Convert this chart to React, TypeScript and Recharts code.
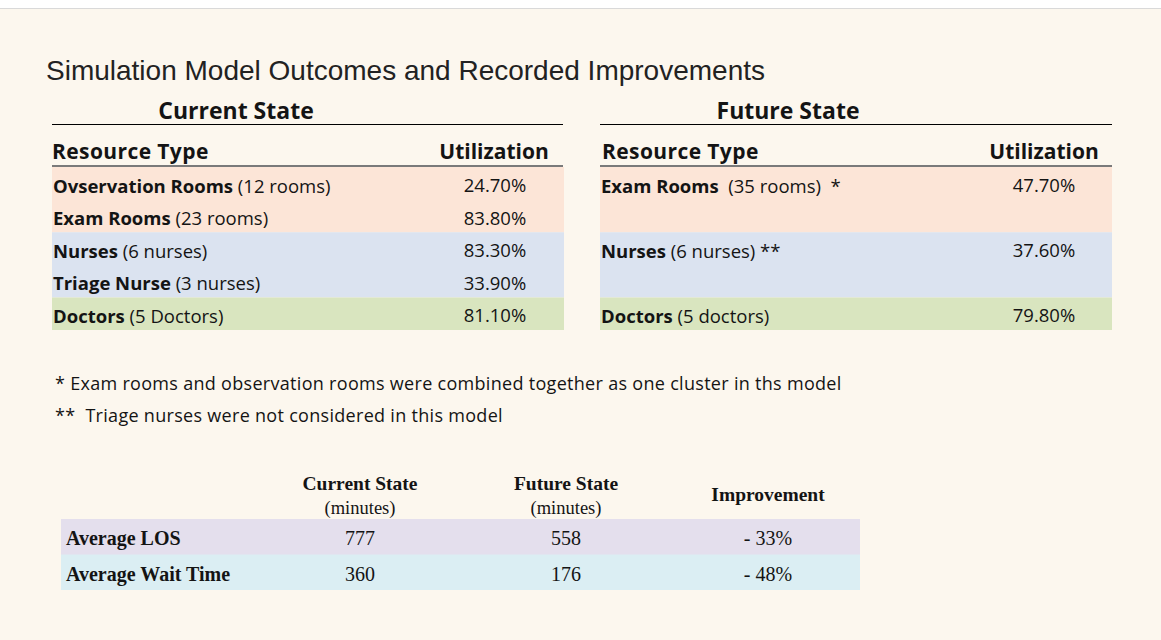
import React from "react";
import { BarChart, Bar, XAxis, YAxis, LabelList, ReferenceArea } from "recharts";

// resource utilization, current vs future state
const currentNames = ["Ovservation Rooms", "Exam Rooms", "Nurses", "Triage Nurse", "Doctors"];
const currentDetails = ["(12 rooms)", "(23 rooms)", "(6 nurses)", "(3 nurses)", "(5 Doctors)"];
const currentUtilization = [24.7, 83.8, 83.3, 33.9, 81.1];

const futureNames = ["Exam Rooms", "", "Nurses", "", "Doctors"];
const futureDetails = [" (35 rooms)  *", "", "(6 nurses) **", "", "(5 doctors)"];
const futureUtilization = [47.7, null, 37.6, null, 79.8];

const resourceGroups = ["rooms", "rooms", "nurses", "nurses", "doctors"];

// simulation outcomes (minutes)
const outcomeNames = ["Average LOS", "Average Wait Time"];
const outcomeCurrent = [777, 360];
const outcomeFuture = [558, 176];
const outcomeImprovement = [-33, -48];

const footnotes = [
  "* Exam rooms and observation rooms were combined together as one cluster in ths model",
  "**  Triage nurses were not considered in this model",
];

const GROUP_FILL: Record<string, string> = { rooms: "#fce5d7", nurses: "#dbe3f0", doctors: "#d9e5bf" };
const OUTCOME_FILL = ["#e4dfed", "#dbeef3"];
const SANS = "'Open Sans', Lato, sans-serif";
const SERIF = "'Liberation Serif', 'DejaVu Serif', serif";
const INK = "#141414";

function Txt({ x, y, size, weight = 400, family = SANS, center = false, spacing = 0, color = INK, children }: any) {
  return (
    <div
      style={{
        position: "absolute",
        left: x,
        top: y,
        transform: `translate(${center ? "-50%" : "0"}, -50%)`,
        fontSize: size,
        fontWeight: weight,
        fontFamily: family,
        letterSpacing: spacing,
        lineHeight: 1,
        whiteSpace: "pre",
        color,
      }}
    >
      {children}
    </div>
  );
}

function Rule({ x, y, w, h = 1, color = "#000" }: any) {
  return <div style={{ position: "absolute", left: x, top: y, width: w, height: h, background: color }} />;
}

// consecutive rows of the same group share one coloured band
const groupSpans = () => {
  const spans: { group: string; start: number; end: number }[] = [];
  resourceGroups.forEach((g, i) => {
    const last = spans[spans.length - 1];
    if (last && last.group === g) last.end = i;
    else spans.push({ group: g, start: i, end: i });
  });
  return spans;
};

function ResourceTable({ x, names, details, values, valueX }: any) {
  const data = names.map((name: string, i: number) => ({
    row: i,
    name,
    detail: details[i],
    utilization: values[i],
  }));

  const row = (p: any) => {
    const d = data[p.value];
    if (!d || !d.name) return null;
    const cy = p.y + p.height / 2 + 1;
    return (
      <g fontFamily={SANS} fontSize={18.5} fill={INK}>
        <text x={p.x + 1} y={cy} dominantBaseline="central" style={{ whiteSpace: "pre" }}>
          <tspan fontWeight={700}>{d.name}</tspan>
          <tspan>{" " + d.detail}</tspan>
        </text>
        <text x={p.x + valueX} y={cy} dominantBaseline="central" textAnchor="middle">
          {d.utilization.toFixed(2)}%
        </text>
      </g>
    );
  };

  return (
    <div style={{ position: "absolute", left: x, top: 167 }}>
      <BarChart
        layout="vertical"
        width={512}
        height={163}
        data={data}
        margin={{ top: 0, right: 0, bottom: 0, left: 0 }}
        barCategoryGap={0}
      >
        <XAxis type="number" domain={[0, 100]} hide />
        <YAxis type="category" dataKey="row" hide />
        {groupSpans().map((s) => (
          <ReferenceArea
            key={s.group}
            y1={s.start}
            y2={s.end}
            fill={GROUP_FILL[s.group]}
            fillOpacity={1}
            stroke="none"
            ifOverflow="visible"
          />
        ))}
        <Bar dataKey="utilization" fill="transparent" isAnimationActive={false}>
          <LabelList dataKey="row" content={row} />
        </Bar>
      </BarChart>
    </div>
  );
}

function OutcomeTable() {
  const data = outcomeNames.map((name, i) => ({
    name,
    current: outcomeCurrent[i],
    future: outcomeFuture[i],
    improvement: outcomeImprovement[i],
  }));

  const band = (p: any) => <rect x={p.x} y={p.y} width={p.width} height={p.height} fill={OUTCOME_FILL[p.index]} />;

  const row = (p: any) => {
    const d = data[p.index];
    if (!d) return null;
    const cy = p.y + p.height / 2 + 1;
    return (
      <g fontFamily={SERIF} fontSize={20} fill={INK}>
        <text x={p.x + 5} y={cy} dominantBaseline="central" fontWeight={700}>
          {d.name}
        </text>
        <text x={p.x + 299} y={cy} dominantBaseline="central" textAnchor="middle">
          {d.current}
        </text>
        <text x={p.x + 505} y={cy} dominantBaseline="central" textAnchor="middle">
          {d.future}
        </text>
        <text x={p.x + 707} y={cy} dominantBaseline="central" textAnchor="middle">
          {`- ${Math.abs(d.improvement)}%`}
        </text>
      </g>
    );
  };

  return (
    <div style={{ position: "absolute", left: 61, top: 519 }}>
      <BarChart
        layout="vertical"
        width={799}
        height={71}
        data={data}
        margin={{ top: 0, right: 0, bottom: 0, left: 0 }}
        barCategoryGap={0}
      >
        <XAxis type="number" domain={[0, 1000]} hide />
        <YAxis type="category" hide />
        <Bar dataKey="current" fill="transparent" background={band} isAnimationActive={false}>
          <LabelList dataKey="current" content={row} />
        </Bar>
      </BarChart>
    </div>
  );
}

export default function App() {
  return (
    <div
      style={{
        position: "absolute",
        left: 0,
        top: 0,
        width: 1161,
        height: 640,
        overflow: "hidden",
        background: "#fcf7ee",
      }}
    >
      <Rule x={0} y={0} w={1161} h={8} color="#ffffff" />
      <Rule x={0} y={8} w={1161} h={1} color="#d9d9d9" />

      <Txt x={46} y={71} size={28} family="'Liberation Sans', Arial, sans-serif" color="#222">
        Simulation Model Outcomes and Recorded Improvements
      </Txt>

      {/* current state */}
      <Txt x={236} y={110} size={23} weight={700} center>Current State</Txt>
      <Rule x={52} y={124} w={511} />
      <Txt x={52} y={151} size={21} weight={700} spacing={0.4}>Resource Type</Txt>
      <Txt x={494} y={151} size={21} weight={700} center>Utilization</Txt>
      <Rule x={52} y={165} w={511} h={2} color="#7a7a7a" />
      <ResourceTable x={52} names={currentNames} details={currentDetails} values={currentUtilization} valueX={443} />

      {/* future state */}
      <Txt x={788} y={110} size={23} weight={700} center>Future State</Txt>
      <Rule x={600} y={124} w={512} />
      <Txt x={602} y={151} size={21} weight={700} spacing={0.4}>Resource Type</Txt>
      <Txt x={1044} y={151} size={21} weight={700} center>Utilization</Txt>
      <Rule x={600} y={165} w={512} h={2} color="#7a7a7a" />
      <ResourceTable x={600} names={futureNames} details={futureDetails} values={futureUtilization} valueX={444} />

      {footnotes.map((t, i) => (
        <Txt key={i} x={55} y={383 + i * 32} size={18} spacing={0.3}>
          {t}
        </Txt>
      ))}

      {/* outcomes */}
      <Txt x={360} y={484} size={19.5} weight={700} family={SERIF} center>Current State</Txt>
      <Txt x={360} y={508} size={18.5} family={SERIF} center>(minutes)</Txt>
      <Txt x={566} y={484} size={19.5} weight={700} family={SERIF} center>Future State</Txt>
      <Txt x={566} y={508} size={18.5} family={SERIF} center>(minutes)</Txt>
      <Txt x={768} y={495} size={19.5} weight={700} family={SERIF} center>Improvement</Txt>
      <OutcomeTable />
    </div>
  );
}
